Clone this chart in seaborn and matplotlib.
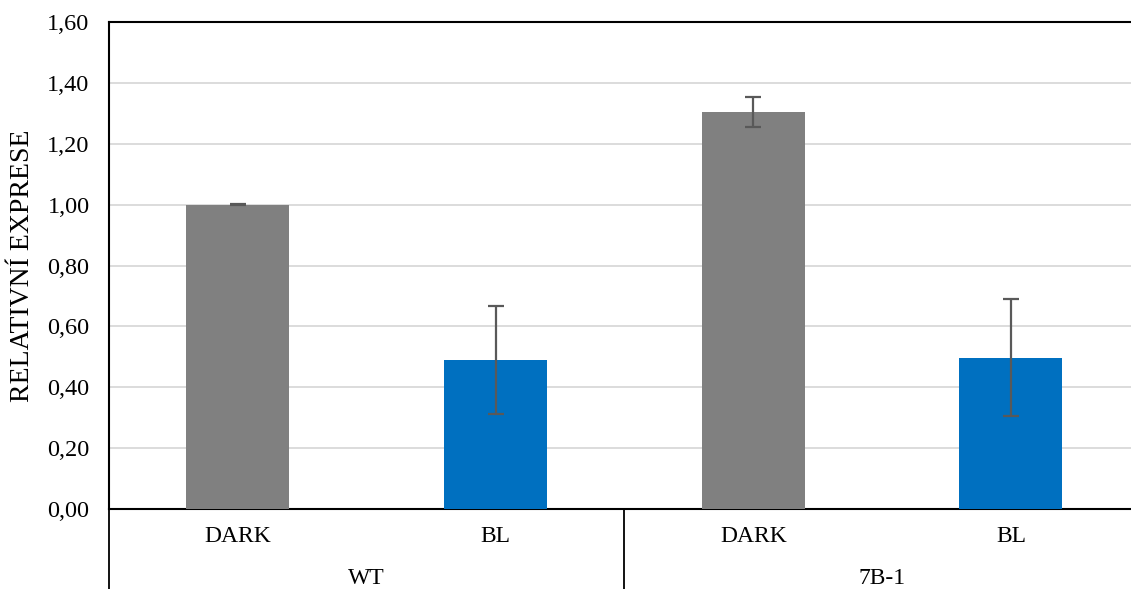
import matplotlib
matplotlib.use("Agg")
import matplotlib.pyplot as plt
import matplotlib.transforms as mtransforms
import numpy as np
import pandas as pd
import seaborn as sns

# Relative expression per line and light condition
groups = ["WT", "7B-1"]
conditions = ["DARK", "BL"]
means = [1.00, 0.49, 1.305, 0.497]
errors = [0.002, 0.178, 0.049, 0.193]
bar_colors = ["#808080", "#0070C0", "#808080", "#0070C0"]
y_ticks = [0.0, 0.2, 0.4, 0.6, 0.8, 1.0, 1.2, 1.4, 1.6]

keys = [f"{g}|{c}" for g in groups for c in conditions]
df = pd.DataFrame({"key": keys, "value": means})

sns.set_theme(style="white")
plt.rcParams["font.family"] = ["Liberation Serif", "DejaVu Serif"]

fig = plt.figure(figsize=(11.31, 5.89), dpi=100)
ax = fig.add_axes([109 / 1131, 1 - 509 / 589, 1 - 109 / 1131, (509 - 22) / 589])

sns.barplot(data=df, x="key", y="value", hue="key", palette=bar_colors,
            order=keys, hue_order=keys, width=0.40, errorbar=None,
            legend=False, ax=ax, zorder=3, saturation=1)

for patch in ax.patches:
    patch.set_edgecolor("none")

centers = [p.get_x() + p.get_width() / 2 for p in ax.patches]
ax.errorbar(centers, means, yerr=errors, fmt="none", ecolor="#595959",
            elinewidth=1.6, capsize=6, capthick=1.6, zorder=4)

ax.set_xlim(-0.5, -0.5 + (1131 - 109) / 257.7)
ax.set_ylim(0, 1.6)
ax.set_yticks(y_ticks)
ax.set_yticklabels([f"{v:.2f}".replace(".", ",") for v in y_ticks])
ax.yaxis.grid(True, color="#D9D9D9", linewidth=1.3, zorder=0)
ax.set_axisbelow(True)
ax.tick_params(axis="y", length=0, pad=14, labelsize=17.5, colors="black")
ax.tick_params(axis="x", length=0, pad=12, labelsize=17, colors="black")
ax.set_xticks(range(len(keys)))
ax.set_xticklabels([k.split("|")[1] for k in keys])
ax.set_xlabel("")
ax.set_ylabel("RELATIVNÍ EXPRESE", fontsize=20, labelpad=9, color="black")

for side in ["left", "top", "bottom"]:
    ax.spines[side].set_visible(True)
    ax.spines[side].set_color("black")
    ax.spines[side].set_linewidth(1.5)
ax.spines["right"].set_visible(False)

# Two-level category axis: group names and separators below the bars
trans = mtransforms.blended_transform_factory(ax.transData, ax.transAxes)
drop = (589 - 509) / (509 - 22)
for x in [-0.5, 1.5]:
    ax.plot([x, x], [0, -drop - 0.01], transform=trans, color="black",
            linewidth=1.3, clip_on=False)
for i, g in enumerate(groups):
    ax.text(2 * i + 0.5, -(579 - 509) / (509 - 22), g, transform=trans,
            ha="center", va="center", fontsize=17, color="black")

fig.savefig("out.png", dpi=100)
